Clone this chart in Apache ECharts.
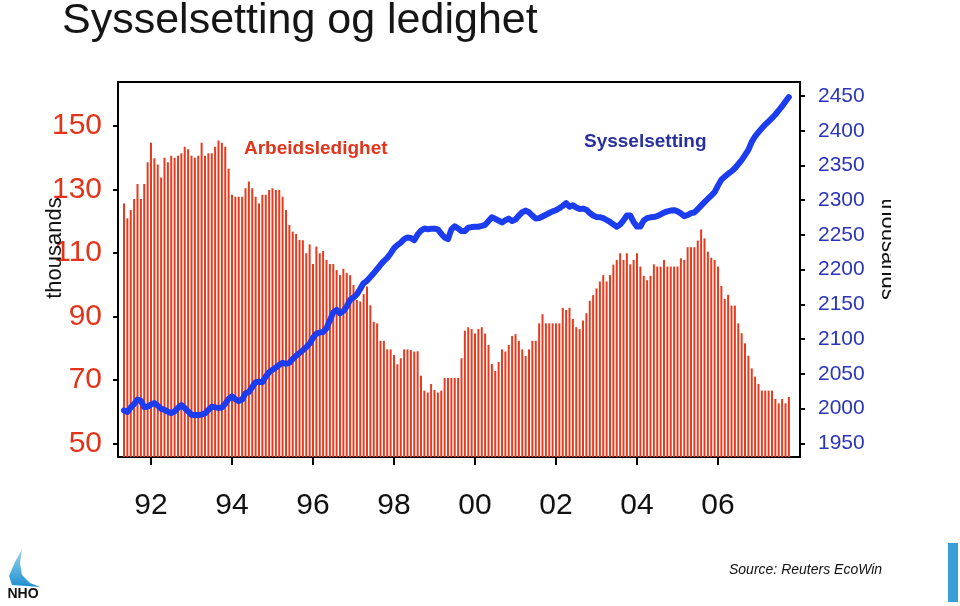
<!DOCTYPE html>
<html><head><meta charset="utf-8">
<script src="https://cdn.jsdelivr.net/npm/echarts@6/dist/echarts.min.js"></script>
<style>html,body{margin:0;padding:0;background:#fff}#c{width:960px;height:606px}</style>
</head><body><div id="c"></div>
<script>
// First month of the series: May 1991 (monthly data)
const startYear = 1991;
const startMonth = 5;

// Arbeidsledighet (thousands, left axis) - monthly
const unemployment = [
  125.6,120.9,123.5,127.0,131.7,127.0,131.7,138.6,
  144.7,139.8,137.9,133.8,140.0,138.6,140.6,140.0,140.6,141.4,143.5,142.7,
  140.6,140.0,140.6,144.7,140.6,141.4,141.4,143.5,145.4,144.7,143.5,136.5,
  128.3,127.7,127.7,127.7,130.4,132.5,130.4,127.7,125.6,128.3,128.3,129.8,
  130.4,129.8,129.8,127.7,123.5,118.8,116.7,116.0,114.1,114.0,109.9,112.7,
  106.5,112.0,109.9,110.6,107.8,106.5,106.5,104.6,103.0,105.0,103.7,103.0,
  99.9,95.2,94.7,97.0,99.4,93.5,88.3,87.8,82.3,82.3,79.6,79.6,
  77.8,74.9,76.8,79.6,79.6,79.4,78.9,79.0,71.3,66.6,66.0,68.7,
  66.8,66.0,66.6,70.6,70.6,70.6,70.6,70.6,76.8,85.5,86.6,86.0,
  84.6,86.0,86.6,84.6,81.0,75.0,72.8,75.6,79.6,78.9,81.0,83.8,
  84.4,82.3,79.6,77.5,79.6,82.3,82.3,87.8,90.7,87.8,87.8,87.8,
  87.8,87.8,92.7,92.0,92.7,89.2,86.6,86.0,88.7,91.0,94.9,96.7,
  98.8,101.0,103.0,101.0,103.0,106.3,107.8,109.9,107.8,109.9,106.4,107.8,
  109.9,105.7,102.8,101.4,102.8,106.4,105.7,105.7,107.8,105.7,105.7,105.7,
  105.7,108.3,107.8,111.8,111.8,111.8,113.9,117.4,114.6,110.4,108.5,107.8,
  105.7,99.6,95.5,96.8,93.4,93.4,87.8,84.7,81.5,77.6,73.6,71.0,
  68.7,66.6,66.6,66.6,66.6,64.0,62.6,64.0,62.6,64.6
];

// Sysselsetting (thousands, right axis) - monthly
const employment = [
  1997.5,1995.1,2001.6,2006.5,2013.0,2011.3,2002.2,2002.6,
  2006.0,2008.0,2004.3,1999.9,1998.2,1995.5,1993.5,1996.0,2001.0,2005.0,2000.7,1996.0,
  1991.0,1990.7,1990.7,1991.3,1993.2,1998.0,2002.6,2001.8,2001.0,2001.7,2007.0,2014.0,
  2017.5,2013.5,2010.7,2013.0,2022.0,2024.0,2031.0,2038.0,2038.5,2038.0,2046.0,2052.5,
  2056.0,2059.0,2063.0,2066.0,2064.5,2066.0,2071.5,2076.0,2080.0,2084.0,2088.5,2093.5,
  2102.0,2108.0,2109.3,2110.2,2115.7,2127.0,2138.5,2142.0,2137.2,2140.4,2147.0,2156.4,
  2160.0,2164.4,2172.4,2180.6,2183.9,2189.4,2194.9,2200.9,2207.0,2212.3,2217.0,2223.3,
  2230.8,2235.4,2239.0,2244.0,2246.3,2245.5,2242.6,2250.6,2256.2,2259.2,2258.3,2258.9,
  2259.1,2258.1,2251.7,2246.4,2244.0,2258.0,2262.5,2259.3,2255.5,2255.5,2260.4,2261.3,
  2261.8,2261.8,2263.0,2264.5,2270.0,2275.3,2273.3,2270.6,2268.0,2271.2,2273.5,2270.2,
  2272.2,2278.0,2282.6,2285.0,2282.6,2277.8,2273.7,2274.2,2276.6,2279.0,2281.6,2283.9,
  2285.6,2288.4,2291.8,2295.7,2290.8,2292.7,2289.4,2287.2,2287.9,2286.3,2281.5,2278.1,
  2276.0,2275.6,2274.3,2271.5,2268.7,2265.2,2261.8,2265.0,2271.0,2278.0,2278.0,2268.6,
  2262.0,2262.0,2270.9,2274.2,2275.4,2275.7,2277.3,2279.5,2282.2,2284.0,2285.1,2285.7,
  2284.0,2281.0,2277.0,2278.7,2281.4,2282.4,2287.0,2292.2,2297.2,2302.1,2306.6,2311.6,
  2321.0,2329.5,2334.0,2337.8,2341.7,2345.8,2351.8,2357.7,2365.0,2372.5,2384.0,2392.0,
  2398.0,2403.7,2409.0,2413.4,2418.3,2423.4,2429.3,2435.4,2442.0,2448.5
];

const yearTicks = [1992, 1994, 1996, 1998, 2000, 2002, 2004, 2006];
const leftTicks = [50, 70, 90, 110, 130, 150];
const rightTicks = [1950, 2000, 2050, 2100, 2150, 2200, 2250, 2300, 2350, 2400, 2450];

// month positions (decimal years) of each observation
const months = unemployment.map((_, i) => startYear + (startMonth - 1 + i) / 12);
const barData = months.map((m, i) => [m, unemployment[i]]);
const lineData = months.map((m, i) => [m, employment[i]]);

const SANS = "'Liberation Sans',Arial,Helvetica,sans-serif";

const chart = echarts.init(document.getElementById('c'), null, {renderer: 'canvas'});
chart.setOption({
  animation: false,
  backgroundColor: '#ffffff',
  grid: {left: 118, right: 160, top: 82, bottom: 149, show: true,
         borderColor: '#000', borderWidth: 2, backgroundColor: 'transparent'},
  xAxis: {
    type: 'value', min: 1991.1852, max: 2008.0247,
    axisLine: {show: false},
    splitLine: {show: false},
    axisTick: {show: true, customValues: yearTicks, length: 8,
               lineStyle: {color: '#000', width: 2}},
    axisLabel: {customValues: yearTicks, margin: 34, color: '#111',
                fontSize: 30, fontFamily: SANS,
                formatter: v => String(v).slice(2)}
  },
  yAxis: [{
    type: 'value', position: 'left', min: 45.68, max: 163.87,
    axisLine: {show: false}, splitLine: {show: false},
    axisTick: {show: true, customValues: leftTicks, length: 5,
               lineStyle: {color: '#000', width: 2}},
    axisLabel: {customValues: leftTicks, margin: 16, color: '#e2341b',
                fontSize: 30, fontFamily: SANS, formatter: v => String(v)}
  }, {
    type: 'value', position: 'right', min: 1930.3, max: 2470.2,
    axisLine: {show: false}, splitLine: {show: false},
    axisTick: {show: true, customValues: rightTicks, length: 5,
               lineStyle: {color: '#000', width: 2}},
    axisLabel: {customValues: rightTicks, margin: 18, color: '#2a35b8',
                fontSize: 21, fontFamily: SANS, formatter: v => String(v)}
  }],
  series: [{
    name: 'Arbeidsledighet', type: 'bar', data: barData, barWidth: 2,
    itemStyle: {color: '#e63b1f'}, z: 2
  }, {
    name: 'Sysselsetting', type: 'line', yAxisIndex: 1, data: lineData,
    symbol: 'none', z: 3,
    lineStyle: {color: '#1c3cf0', width: 6, cap: 'round', join: 'round'}
  }],
  graphic: [
    {type: 'text', left: 62, top: 0, z: 10,
     style: {text: 'Sysselsetting og ledighet', font: '43px ' + SANS, fill: '#151515'}},
    {type: 'text', x: 244, y: 149, z: 10,
     style: {text: 'Arbeidsledighet', font: 'bold 19px ' + SANS, fill: '#e2341b',
             textAlign: 'left', textVerticalAlign: 'middle', align: 'left', verticalAlign: 'middle'}},
    {type: 'text', x: 584, y: 142, z: 10,
     style: {text: 'Sysselsetting', font: 'bold 19px ' + SANS, fill: '#28309f',
             textAlign: 'left', textVerticalAlign: 'middle', align: 'left', verticalAlign: 'middle'}},
    {type: 'text', x: 55, y: 248, rotation: Math.PI / 2, z: 10,
     style: {text: 'thousands', font: '22px ' + SANS, fill: '#111',
             textAlign: 'center', textVerticalAlign: 'middle', align: 'center', verticalAlign: 'middle'}},
    {type: 'text', x: 888, y: 249, rotation: -Math.PI / 2, z: 10,
     style: {text: 'thousands', font: '22px ' + SANS, fill: '#111',
             textAlign: 'center', textVerticalAlign: 'middle', align: 'center', verticalAlign: 'middle'}},
    {type: 'rect', z: 11, shape: {x: 891, y: 185, width: 50, height: 130}, style: {fill: '#ffffff'}},
    {type: 'text', x: 729, y: 570, z: 10,
     style: {text: 'Source: Reuters EcoWin', font: 'italic 14px ' + SANS, fill: '#111',
             textAlign: 'left', textVerticalAlign: 'middle', align: 'left', verticalAlign: 'middle'}},
    {type: 'rect', shape: {x: 948, y: 543, width: 10, height: 59}, style: {fill: '#3a9fd8'}},
    {type: 'polygon', z: 10,
     shape: {points: [[22, 549], [15, 562], [9, 576], [12, 585], [40, 587], [30, 583], [22, 575], [20, 563]]},
     style: {fill: new echarts.graphic.LinearGradient(0, 0, 0, 1,
             [{offset: 0, color: '#9ad6f0'}, {offset: 1, color: '#1f8fcf'}])}},
    {type: 'text', x: 23, y: 594, z: 10,
     style: {text: 'NHO', font: 'bold 14px ' + SANS, fill: '#111',
             textAlign: 'center', textVerticalAlign: 'middle', align: 'center', verticalAlign: 'middle'}}
  ]
});
</script>
</body></html>
